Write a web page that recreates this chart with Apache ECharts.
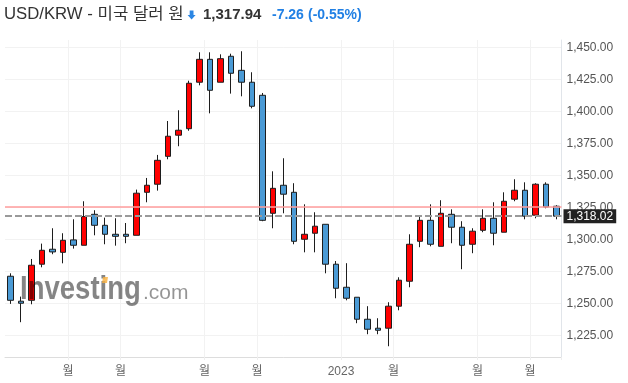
<!DOCTYPE html>
<html>
<head>
<meta charset="utf-8">
<script src="https://cdn.jsdelivr.net/npm/echarts@6/dist/echarts.min.js"></script>
<style>
  html, body { margin: 0; padding: 0; background: #fff; }
  #chart { width: 628px; height: 383px; }
</style>
</head>
<body>
<div id="chart"></div>
<script>
// Weekly categories (week start dates)
var weeks = [
  '2022-05-23','2022-05-30','2022-06-06','2022-06-13','2022-06-20','2022-06-27','2022-07-04','2022-07-11',
  '2022-07-18','2022-07-25','2022-08-01','2022-08-08','2022-08-15','2022-08-22','2022-08-29','2022-09-05',
  '2022-09-12','2022-09-19','2022-09-26','2022-10-03','2022-10-10','2022-10-17','2022-10-24','2022-10-31',
  '2022-11-07','2022-11-14','2022-11-21','2022-11-28','2022-12-05','2022-12-12','2022-12-19','2022-12-26',
  '2023-01-02','2023-01-09','2023-01-16','2023-01-23','2023-01-30','2023-02-06','2023-02-13','2023-02-20',
  '2023-02-27','2023-03-06','2023-03-13','2023-03-20','2023-03-27','2023-04-03','2023-04-10','2023-04-17',
  '2023-04-24','2023-05-01','2023-05-08','2023-05-15','2023-05-22'
];
var openVals = [
  1271.1,1251.6,1252.3,1280.5,1292.2,1289.8,1299.5,1295.3,1319.5,1310.9,1303.9,1303.9,1303.1,1336.7,1343.0,1364.8,
  1381.3,1386.4,1422.7,1440.6,1422.7,1443.0,1432.0,1422.7,1412.5,1320.3,1342.2,1336.7,1300.0,1304.7,1311.7,1280.5,
  1262.5,1254.7,1237.5,1230.5,1230.5,1247.7,1267.2,1298.4,1314.8,1294.5,1319.5,1309.4,1296.1,1307.0,1316.4,1305.5,
  1331.3,1338.3,1318.8,1343.0,1325.8
];
var closeVals = [
  1252.3,1250.0,1279.7,1291.4,1290.1,1299.2,1295.3,1317.7,1310.9,1303.9,1302.3,1302.3,1336.0,1342.2,1361.7,1380.5,
  1385.2,1421.9,1440.6,1416.4,1441.1,1429.7,1422.7,1403.9,1314.8,1339.8,1335.2,1298.4,1303.9,1310.2,1280.5,1261.7,
  1253.9,1237.5,1229.7,1228.9,1247.7,1268.0,1296.1,1314.8,1296.1,1320.3,1309.4,1295.3,1306.3,1316.4,1304.7,1329.7,
  1338.3,1318.0,1343.0,1325.2,1318.02
];
var lowVals = [
  1249.5,1235.2,1249.2,1278.1,1288.3,1281.2,1292.7,1295.3,1303.1,1296.1,1295.0,1296.9,1303.1,1328.9,1338.0,1362.5,
  1372.7,1384.8,1420.3,1398.4,1422.7,1413.8,1411.7,1402.3,1314.1,1308.6,1320.3,1296.1,1289.8,1289.8,1273.4,1253.9,
  1252.3,1234.4,1225.8,1225.8,1216.4,1244.5,1262.5,1293.8,1294.5,1294.5,1296.9,1276.6,1289.1,1305.5,1295.3,1305.5,
  1329.7,1315.6,1316.4,1324.2,1315.6
];
var highVals = [
  1273.4,1255.2,1284.6,1296.6,1308.6,1304.7,1315.6,1329.7,1322.7,1316.9,1316.4,1312.7,1338.8,1347.9,1365.9,1392.4,
  1400.8,1423.9,1446.1,1446.1,1444.5,1445.0,1446.9,1430.5,1414.3,1353.1,1363.3,1343.8,1327.3,1321.1,1311.7,1283.0,
  1281.3,1254.7,1247.7,1238.3,1250.8,1270.3,1303.9,1318.0,1327.3,1330.5,1323.4,1314.1,1308.6,1323.4,1328.9,1336.7,
  1346.9,1344.5,1343.8,1344.5,1326.6
];
var yTicks = [1225, 1250, 1275, 1300, 1325, 1350, 1375, 1400, 1425, 1450];
var monthLineIdx = [6, 11, 19, 24, 32, 37, 45, 50];
var monthLabels = ['월', '월', '월', '월', '2023', '월', '월', '월'];
var prevClose = 1325.2;
var lastPrice = 1318.02;

var chart = echarts.init(document.getElementById('chart'), null, { renderer: 'canvas' });
var ohlc = openVals.map(function (o, i) { return [o, closeVals[i], lowVals[i], highVals[i]]; });
var fmt = new Intl.NumberFormat('en-US', { minimumFractionDigits: 2, maximumFractionDigits: 2 });
var FONT = '"Liberation Sans", "Noto Sans CJK KR", sans-serif';

chart.setOption({
  animation: false,
  backgroundColor: '#ffffff',
  grid: { left: 5, right: 66.5, top: 40, bottom: 26 },
  xAxis: {
    type: 'category',
    data: weeks,
    boundaryGap: true,
    axisLine: { show: true, lineStyle: { color: '#dddddd', width: 1 } },
    axisTick: {
      show: true, length: 3,
      interval: function (i) { return monthLineIdx.indexOf(i) >= 0; },
      lineStyle: { color: '#eeeeee' }
    },
    splitLine: {
      show: true,
      interval: function (i) { return monthLineIdx.indexOf(i) >= 0; },
      lineStyle: { color: '#f2f2f2', width: 1 }
    },
    axisLabel: {
      interval: function (i) { return monthLineIdx.indexOf(i) >= 0; },
      formatter: function (v, i) { var k = monthLineIdx.indexOf(i); return k >= 0 ? monthLabels[k] : ''; },
      padding: [0, 10.5, 0, 0],
      margin: 9,
      color: '#666666',
      fontSize: 12,
      fontFamily: FONT
    }
  },
  yAxis: {
    type: 'value',
    position: 'right',
    min: 1208.0,
    max: 1455.7,
    scale: true,
    axisLine: { show: true, lineStyle: { color: '#e1e5ea', width: 1 } },
    axisTick: { show: false, customValues: yTicks },
    axisLabel: {
      customValues: yTicks,
      formatter: function (v) { return fmt.format(v); },
      color: '#555555',
      fontSize: 12,
      margin: 5,
      fontFamily: FONT
    },
    splitLine: { show: true, lineStyle: { color: '#f2f2f2', width: 1 } }
  },
  series: [{
    type: 'candlestick',
    data: ohlc,
    barWidth: 6,
    itemStyle: {
      color: '#ff0000',
      color0: '#4a9ad5',
      borderColor: '#1d1d1d',
      borderColor0: '#1d1d1d',
      borderWidth: 1
    },
    markLine: {
      silent: true,
      symbol: 'none',
      animation: false,
      data: [
        {
          yAxis: prevClose,
          lineStyle: { color: '#ff9c9c', type: 'solid', width: 1.5 },
          label: { show: false }
        },
        {
          yAxis: lastPrice,
          lineStyle: { color: '#9a9a9a', type: [7, 3], width: 2 },
          label: {
            show: true,
            position: 'end',
            distance: 2,
            formatter: function () { return fmt.format(lastPrice); },
            backgroundColor: '#222222',
            color: '#ffffff',
            fontSize: 12,
            fontFamily: FONT,
            padding: [1, 3, 1, 3],
            lineHeight: 12
          }
        }
      ]
    }
  }],
  graphic: [
    { type: 'text', x: 4, y: 15, scaleX: 1.045, style: { text: 'USD/KRW - 미국 달러 원', font: '16px ' + FONT, fill: '#333333', verticalAlign: 'middle' } },
    { type: 'polygon', shape: { points: [[189.7, 10.5], [193.5, 10.5], [193.5, 15], [195.6, 15], [191.6, 19.6], [187.6, 15], [189.7, 15]] }, style: { fill: '#2b86e3' } },
    { type: 'text', x: 203, y: 15, style: { text: '1,317.94', font: 'bold 15px ' + FONT, fill: '#333333', verticalAlign: 'middle' } },
    { type: 'text', x: 272, y: 15, style: { text: '-7.26', font: 'bold 14px ' + FONT, fill: '#2180e4', verticalAlign: 'middle' } },
    { type: 'text', x: 308, y: 15, style: { text: '(-0.55%)', font: 'bold 14px ' + FONT, fill: '#2180e4', verticalAlign: 'middle' } },
    { type: 'text', x: 20, y: 290, scaleX: 0.81, z: 100, style: { text: 'Investing', font: 'bold 34px ' + FONT, fill: 'rgba(0,0,0,0.48)', verticalAlign: 'middle' } },
    { type: 'text', x: 143, y: 293, z: 100, style: { text: '.com', font: '21px ' + FONT, fill: 'rgba(0,0,0,0.42)', verticalAlign: 'middle' } },
    { type: 'polygon', z: 101, shape: { points: [[103, 277], [108, 277], [107, 283], [102, 283]] }, style: { fill: 'rgba(247,175,60,0.8)' } }
  ]
});
</script>
</body>
</html>
